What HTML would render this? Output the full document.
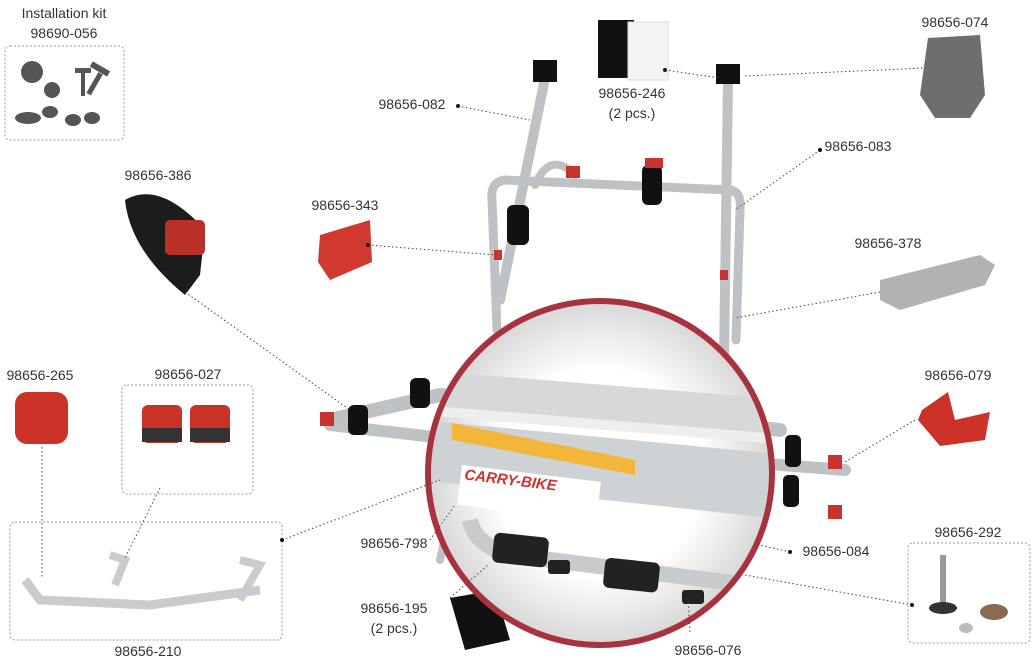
<!DOCTYPE html>
<html><head><meta charset="utf-8"><style>
html,body{margin:0;padding:0;background:#fff}
svg{display:block}
text{font-family:"Liberation Sans",sans-serif;font-size:14px;fill:#333;text-anchor:middle}
</style></head><body>
<svg width="1035" height="666" viewBox="0 0 1035 666" xmlns="http://www.w3.org/2000/svg">
<defs>
<radialGradient id="cg" cx="0.5" cy="0.5" r="0.5"><stop offset="0.6" stop-color="#fff"/><stop offset="1" stop-color="#d8d8d8"/></radialGradient>
<clipPath id="cc"><circle cx="600" cy="473" r="172"/></clipPath>
</defs>
<!-- dashed boxes -->
<g fill="none" stroke="#999" stroke-dasharray="2,2">
<rect x="5" y="46" width="119" height="94" rx="5"/>
<rect x="122" y="385" width="131" height="109" rx="5"/>
<rect x="10" y="522" width="272" height="118" rx="5"/>
<rect x="908" y="543" width="122" height="100" rx="5"/>
</g>
<!-- install kit icons -->
<g fill="#555">
<circle cx="32" cy="72" r="11"/><circle cx="52" cy="90" r="8"/>
<rect x="75" y="68" width="16" height="5"/><rect x="81" y="72" width="4" height="24"/>
<rect x="90" y="66" width="20" height="6" transform="rotate(30 100 69)"/><rect x="92" y="72" width="5" height="24" transform="rotate(30 95 84)"/>
<ellipse cx="28" cy="118" rx="13" ry="6"/><ellipse cx="50" cy="112" rx="8" ry="6"/>
<ellipse cx="73" cy="120" rx="8" ry="6"/><ellipse cx="92" cy="118" rx="8" ry="6"/>
</g>
<!-- rack frame -->
<g fill="none" stroke="#bfc2c5" stroke-linecap="round">
<path d="M545 78 L500 300" stroke-width="10"/>
<path d="M728 80 L724 360" stroke-width="10"/>
<path d="M505 180 Q490 182 492 200 L497 330" stroke-width="9"/>
<path d="M505 180 L730 190 Q742 192 740 210 L736 340" stroke-width="9"/>
<path d="M535 185 Q550 150 575 175" stroke-width="8"/>
<path d="M330 420 L440 395 L780 430" stroke-width="14"/>
<path d="M330 425 L460 440 L845 470" stroke-width="12"/>
<path d="M460 470 L440 560" stroke-width="8"/>
</g>
<g fill="#111"><rect x="533" y="60" width="24" height="22"/><rect x="716" y="64" width="24" height="20"/>
<rect x="507" y="205" width="22" height="40" rx="6"/><rect x="642" y="165" width="20" height="40" rx="6"/>
<rect x="348" y="405" width="20" height="30" rx="6"/><rect x="410" y="378" width="20" height="30" rx="6"/>
<rect x="785" y="435" width="16" height="32" rx="5"/><rect x="783" y="475" width="16" height="32" rx="5"/>
<path d="M450 598 L495 590 L510 640 L465 650 Z"/>
</g>
<g fill="#c9332d"><rect x="320" y="412" width="14" height="14"/><rect x="828" y="455" width="14" height="14"/><rect x="828" y="505" width="14" height="14"/>
<rect x="566" y="166" width="14" height="12"/><rect x="645" y="158" width="18" height="10"/><rect x="494" y="250" width="8" height="10"/><rect x="720" y="270" width="8" height="10"/></g>
<!-- big circle -->
<circle cx="600" cy="473" r="172" fill="url(#cg)"/>
<g clip-path="url(#cc)">
<path d="M420 370 L790 400 L790 435 L420 405 Z" fill="#d6d8da"/>
<path d="M420 405 L790 435 L790 445 L420 415 Z" fill="#eee"/>
<path d="M420 420 L790 455 L790 520 L420 480 Z" fill="#cfd2d5"/>
<path d="M452 423 L635 460 L635 475 L452 440 Z" fill="#f2b638"/>
<rect x="462" y="465" width="140" height="40" fill="#fff" transform="rotate(7 462 465)"/>
<text x="510" y="485" transform="rotate(7 510 485)" style="font-size:15px;font-weight:bold;fill:#d0302a;font-style:italic">CARRY-BIKE</text>
<path d="M470 520 Q475 545 510 555 L790 590" fill="none" stroke="#c8cbce" stroke-width="16"/>
<rect x="493" y="535" width="55" height="30" rx="6" fill="#222" transform="rotate(6 520 550)"/>
<rect x="604" y="560" width="55" height="30" rx="6" fill="#222" transform="rotate(6 630 575)"/>
<rect x="548" y="560" width="22" height="14" rx="3" fill="#222"/><rect x="682" y="590" width="22" height="14" rx="3" fill="#222"/>
</g>
<circle cx="600" cy="473" r="172" fill="none" stroke="#a8323e" stroke-width="6"/>
<!-- parts -->
<rect x="598" y="20" width="36" height="58" fill="#111"/><rect x="628" y="22" width="40" height="58" fill="#f4f4f4" stroke="#ddd"/>
<path d="M928 38 L980 35 L985 95 L970 118 L935 118 L920 95 Z" fill="#6d6e70"/>
<path d="M125 200 Q160 180 205 230 L200 275 L185 295 Q130 250 125 200 Z" fill="#1c1c1c"/>
<rect x="165" y="220" width="40" height="35" rx="5" fill="#b83028"/>
<path d="M320 235 L370 220 L372 262 L330 280 L318 262 Z" fill="#d0392f"/>
<path d="M880 280 L980 255 L995 265 L985 285 L900 310 L880 300 Z" fill="#b0b2b4"/>
<rect x="15" y="392" width="53" height="52" rx="12" fill="#cc3228"/>
<rect x="142" y="405" width="40" height="38" rx="6" fill="#c83228"/><rect x="190" y="405" width="40" height="38" rx="6" fill="#c83228"/>
<rect x="142" y="428" width="40" height="14" fill="#333"/><rect x="190" y="428" width="40" height="14" fill="#333"/>
<path d="M922 410 L948 392 L955 420 L990 412 L985 440 L940 446 L918 420 Z" fill="#cc3228"/>
<path d="M25 580 L40 600 L150 605 L260 590" fill="none" stroke="#c9cccf" stroke-width="9"/>
<path d="M110 555 L125 560 L115 585" fill="none" stroke="#c9cccf" stroke-width="8"/>
<path d="M240 560 L260 565 L240 600" fill="none" stroke="#c9cccf" stroke-width="8"/>
<rect x="940" y="555" width="6" height="50" fill="#999"/><ellipse cx="943" cy="608" rx="14" ry="6" fill="#333"/>
<ellipse cx="994" cy="612" rx="14" ry="8" fill="#8a6a50"/><ellipse cx="966" cy="628" rx="7" ry="5" fill="#bbb"/>
<!-- leader lines -->
<g fill="none" stroke="#444" stroke-dasharray="1.5,2.5">
<path d="M458 106 L530 120"/><path d="M665 70 L720 78"/><path d="M745 76 L925 68"/>
<path d="M820 150 L735 210"/><path d="M185 292 L350 410"/><path d="M368 245 L496 255"/>
<path d="M880 292 L735 318"/><path d="M42 447 L42 578"/><path d="M160 488 L125 558"/>
<path d="M915 420 L845 462"/><path d="M282 540 L440 480"/><path d="M430 540 L455 505"/>
<path d="M790 552 L760 545"/><path d="M912 605 L745 575"/><path d="M450 598 L488 565"/><path d="M690 632 L688 598"/>
</g>
<g fill="#111"><circle cx="458" cy="106" r="2"/><circle cx="665" cy="70" r="2"/><circle cx="820" cy="150" r="2"/><circle cx="368" cy="245" r="2"/><circle cx="282" cy="540" r="2"/><circle cx="912" cy="605" r="2"/><circle cx="790" cy="552" r="2"/></g>
<!-- labels -->
<text x="64" y="18">Installation kit</text><text x="64" y="38">98690-056</text>
<text x="412" y="109">98656-082</text>
<text x="632" y="98">98656-246</text><text x="632" y="118">(2 pcs.)</text>
<text x="955" y="27">98656-074</text>
<text x="858" y="151">98656-083</text>
<text x="158" y="180">98656-386</text>
<text x="345" y="210">98656-343</text>
<text x="888" y="248">98656-378</text>
<text x="40" y="380">98656-265</text>
<text x="188" y="379">98656-027</text>
<text x="958" y="380">98656-079</text>
<text x="968" y="537">98656-292</text>
<text x="394" y="548">98656-798</text>
<text x="836" y="556">98656-084</text>
<text x="394" y="613">98656-195</text><text x="394" y="633">(2 pcs.)</text>
<text x="148" y="656">98656-210</text>
<text x="708" y="655">98656-076</text>
</svg>
</body></html>
